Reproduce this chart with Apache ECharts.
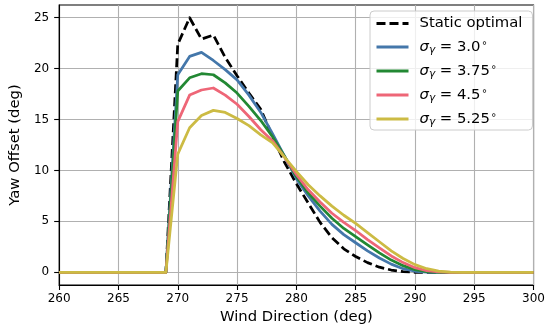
<!DOCTYPE html>
<html>
<head>
<meta charset="utf-8">
<script src="https://cdn.jsdelivr.net/npm/echarts@6/dist/echarts.min.js"></script>
<style>
html,body{margin:0;padding:0;background:#fff;}
#chart{width:548px;height:331px;}
</style>
</head>
<body>
<div id="chart"></div>
<script>
// Wind directions (deg)
const windDirections = [260,261,262,263,264,265,266,267,268,269,270,271,272,273,274,275,276,277,278,279,280,281,282,283,284,285,286,287,288,289,290,291,292,293,294,295,296,297,298,299,300];
// Static optimal yaw offsets (deg)
const staticOptimal = [0,0,0,0,0,0,0,0,0,0,22.4,25.0,22.9,23.3,21.1,19.3,17.6,16.0,13.3,10.8,8.7,6.8,4.9,3.4,2.3,1.55,0.95,0.5,0.22,0.07,0,0,0,0,0,0,0,0,0,0,0];
// Robust yaw offsets for each sigma
const sigma300 = [0,0,0,0,0,0,0,0,0,0,19.4,21.2,21.6,20.8,19.9,18.9,17.4,15.7,13.6,11.4,9.2,7.5,6.0,4.7,3.7,2.9,2.1,1.4,0.8,0.35,0.1,0.02,0,0,0,0,0,0,0,0,0];
const sigma375 = [0,0,0,0,0,0,0,0,0,0,17.8,19.1,19.5,19.4,18.6,17.6,16.3,14.9,13.3,11.4,9.4,7.8,6.5,5.3,4.3,3.5,2.7,1.9,1.2,0.65,0.25,0.07,0,0,0,0,0,0,0,0,0];
const sigma450 = [0,0,0,0,0,0,0,0,0,0,14.8,17.4,17.9,18.1,17.4,16.5,15.3,14.0,12.9,11.3,9.6,8.1,6.9,5.8,4.9,4.1,3.2,2.4,1.6,0.95,0.45,0.15,0.03,0,0,0,0,0,0,0,0];
const sigma525 = [0,0,0,0,0,0,0,0,0,0,11.6,14.2,15.4,15.9,15.7,15.1,14.4,13.5,12.7,11.3,9.9,8.6,7.5,6.5,5.6,4.8,3.9,3.0,2.1,1.35,0.75,0.35,0.12,0.02,0,0,0,0,0,0,0];
const sigmaLabels = ['3.0','3.75','4.5','5.25'];
const yTicks = [0,5,10,15,20,25];
const xTicks = [260,265,270,275,280,285,290,295,300];

const FONT = 'DejaVu Sans';
const colors = ['#000000','#4477AA','#228833','#EE6677','#CCBB44'];
const seriesValues = [staticOptimal, sigma300, sigma375, sigma450, sigma525];
const seriesNames = ['Static optimal'].concat(sigmaLabels.map(s => 'sigma ' + s));

function pairs(vals){ return windDirections.map((x,i)=>[x, vals[i]]); }

const series = seriesValues.map((vals, i) => ({
  name: seriesNames[i],
  type: 'line',
  data: pairs(vals),
  showSymbol: false,
  symbol: 'none',
  smooth: false,
  z: 2 + i,
  lineStyle: {
    color: colors[i],
    width: 2.75,
    type: i === 0 ? [9, 4] : 'solid',
    cap: 'butt',
    join: 'round'
  },
  itemStyle: { color: colors[i] },
  emphasis: { disabled: true },
  animation: false
}));

const chart = echarts.init(document.getElementById('chart'), null, {renderer: 'canvas'});
chart.setOption({
  animation: false,
  backgroundColor: '#ffffff',
  textStyle: { fontFamily: FONT },
  grid: {
    left: 56, right: 12, top: 5, bottom: 46,
    show: true, borderColor: '#000', borderWidth: 1.1, backgroundColor: 'transparent'
  },
  xAxis: {
    type: 'value', min: 260, max: 300, interval: 5,
    name: 'Wind Direction (deg)', nameLocation: 'middle', nameGap: 24,
    nameTextStyle: { fontFamily: FONT, fontSize: 14.8, color: '#000' },
    axisLine: { show: true, onZero: false, lineStyle: { color: '#000', width: 1.1 } },
    axisTick: { show: true, inside: false, length: 5, lineStyle: { color: '#000', width: 1.1 } },
    axisLabel: { fontFamily: FONT, fontSize: 12, color: '#000', margin: 8,
      customValues: xTicks },
    splitLine: { show: true, lineStyle: { color: '#b0b0b0', width: 1.1 } }
  },
  yAxis: {
    type: 'value', min: -1.25, max: 26.25,
    name: 'Yaw Offset (deg)', nameLocation: 'middle', nameGap: 32,
    nameTextStyle: { fontFamily: FONT, fontSize: 14.8, color: '#000' },
    axisLine: { show: true, onZero: false, lineStyle: { color: '#000', width: 1.1 } },
    axisTick: { show: true, inside: false, length: 5, lineStyle: { color: '#000', width: 1.1 },
      customValues: yTicks },
    axisLabel: { fontFamily: FONT, fontSize: 12, color: '#000', margin: 10,
      customValues: yTicks },
    splitLine: { show: true, lineStyle: { color: '#b0b0b0', width: 1.1 } }
  },
  legend: {
    orient: 'vertical',
    left: 370, top: 11,
    padding: [4, 10, 2, 5],
    itemGap: 6,
    itemWidth: 32, itemHeight: 12,
    itemStyle: { opacity: 0, borderWidth: 0 },
    lineStyle: { width: 3 },
    selectedMode: false,
    backgroundColor: 'rgba(255,255,255,0.8)',
    borderColor: '#cccccc', borderWidth: 1, borderRadius: 4,
    data: seriesNames,
    textStyle: {
      fontFamily: FONT, fontSize: 14.8, color: '#000', lineHeight: 17, padding: [0,0,0,6],
      rich: {
        s: { fontFamily: FONT, fontStyle: 'italic', fontSize: 14.8, color: '#000', lineHeight: 17 },
        g: { fontFamily: FONT, fontStyle: 'italic', fontSize: 10.5, color: '#000', lineHeight: 17, padding: [7,0,0,0] },
        t: { fontFamily: FONT, fontSize: 14.8, color: '#000', lineHeight: 17 },
        d: { fontFamily: FONT, fontSize: 10, color: '#000', lineHeight: 17, padding: [0,0,8,1] }
      }
    },
    formatter: function(name){
      if (name.indexOf('sigma ') === 0) {
        const v = name.slice(6);
        return '{s|σ}{g|γ}{t| = ' + v + '}{d|∘}';
      }
      return name;
    }
  },
  series: series
});
</script>
</body>
</html>
